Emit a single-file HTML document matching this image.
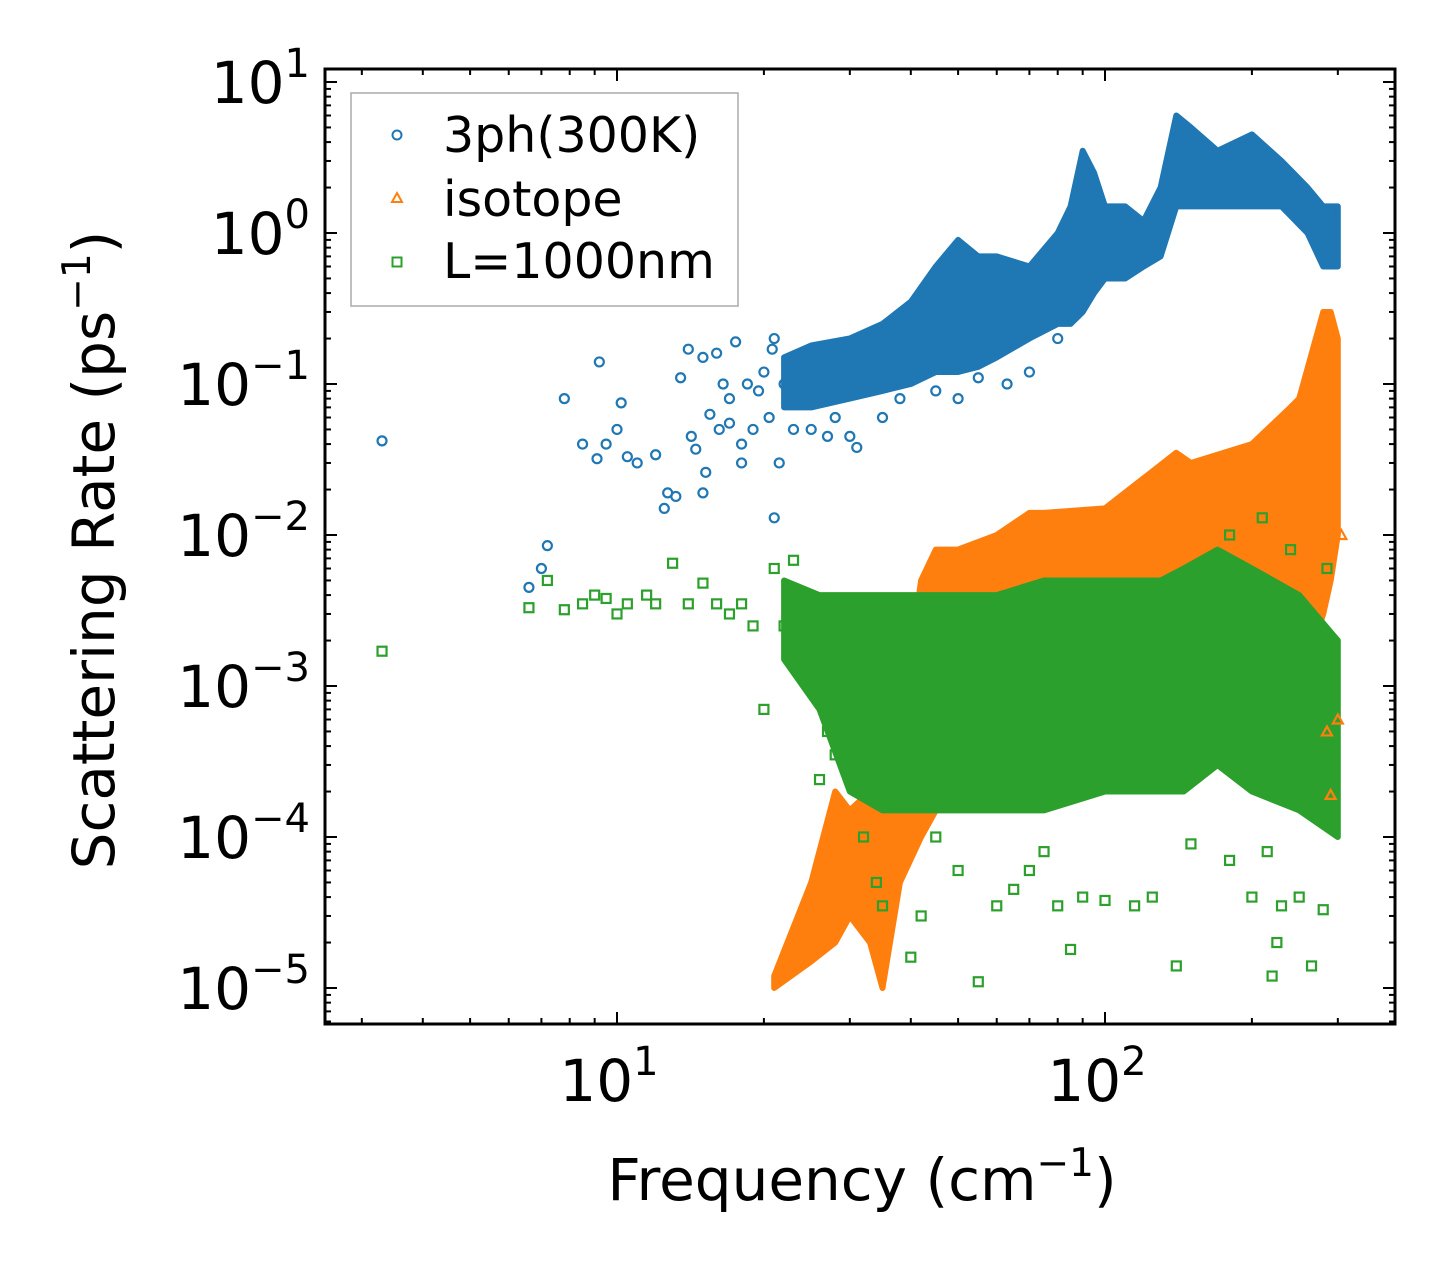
<!DOCTYPE html>
<html><head><meta charset="utf-8"><style>
html,body{margin:0;padding:0;background:#fff}
svg{display:block;font-family:"DejaVu Sans","Liberation Sans",sans-serif}
</style></head><body>
<svg id="chart" width="1455" height="1274" viewBox="0 0 1455 1274" xmlns="http://www.w3.org/2000/svg">
<rect x="0" y="0" width="1455" height="1274" fill="#fff"/>
<g id="bands"></g>
<g id="points"></g>
<g id="axes"></g>
<rect x="325" y="69" width="1070" height="955" fill="none" stroke="#000" stroke-width="3"/>
<g>
<rect x="351" y="93" width="387" height="213" fill="#fff" stroke="#aaa" stroke-width="1.5"/>
<circle cx="397" cy="135" r="4.5" fill="none" stroke="#1f77b4" stroke-width="2"/>
<text x="443" y="152" font-size="49">3ph(300K)</text>
<polygon points="397,193 402,202 392,202" fill="none" stroke="#ff7f0e" stroke-width="2"/>
<text x="443" y="216" font-size="49">isotope</text>
<rect x="392.5" y="257.5" width="9" height="9" fill="none" stroke="#2ca02c" stroke-width="2"/>
<text x="443" y="278" font-size="49">L=1000nm</text>
</g>
<text x="862" y="1200" font-size="58" text-anchor="middle">Frequency (cm<tspan dy="-24" font-size="39">−1</tspan><tspan dy="24">)</tspan></text>
<text transform="translate(114,550) rotate(-90)" font-size="58" text-anchor="middle">Scattering Rate (ps<tspan dy="-24" font-size="39">−1</tspan><tspan dy="24">)</tspan></text>
</svg>
<script>
// Dense-region envelopes
const blueBandX  = [22,25,30,35,40,45,50,55,60,70,80,85,90,95,100,110,120,130,140,150,170,200,230,260,280,300];
const blueBandLo = [0.07,0.07,0.08,0.09,0.1,0.12,0.12,0.13,0.15,0.2,0.25,0.25,0.3,0.4,0.5,0.5,0.6,0.7,1.5,1.5,1.5,1.5,1.5,1.0,0.6,0.6];
const blueBandHi = [0.15,0.18,0.2,0.25,0.35,0.6,0.9,0.7,0.7,0.6,1.0,1.5,3.5,2.5,1.5,1.5,1.2,2.0,6.0,5.0,3.5,4.5,3.0,2.0,1.5,1.5];
const orangeBandX  = [21,25,28,30,33,35,38,42,45,50,60,70,75,100,140,150,200,240,250,280,290,300];
const orangeBandLo = [1e-5,1.5e-5,2e-5,3e-5,2e-5,1e-5,5e-5,1e-4,1.5e-4,2e-4,2e-4,2e-4,2e-4,3e-4,5e-4,5e-4,1e-3,1e-3,1e-3,3e-3,5e-3,1e-2];
const orangeBandHi = [1.2e-5,5e-5,2e-4,1.5e-4,2e-4,3e-4,5e-4,5e-3,8e-3,8e-3,1e-2,1.4e-2,1.4e-2,1.5e-2,3.5e-2,3e-2,4e-2,7e-2,8e-2,0.3,0.3,0.2];
const greenBandX  = [22,26,30,35,45,60,75,100,130,145,170,200,250,300];
const greenBandLo = [1.5e-3,7e-4,2e-4,1.5e-4,1.5e-4,1.5e-4,1.5e-4,2e-4,2e-4,2e-4,3e-4,2e-4,1.5e-4,1e-4];
const greenBandHi = [5e-3,4e-3,4e-3,4e-3,4e-3,4e-3,5e-3,5e-3,5e-3,6e-3,8e-3,6e-3,4e-3,2e-3];
// Sparse points
const blueX = [3.3,6.6,7,7.2,7.8,8.5,9.2,9.1,9.5,10,10.2,10.5,11,12,12.5,12.7,13.2,13.5,14,14.2,14.5,15,15,15.2,15.5,16,16.2,16.5,17,17,17.5,18,18,18.5,19,19.5,20,20.5,20.8,21,21,21.5,22,23,25,27,28,30,31,35,38,45,50,55,63,70,80];
const blueY = [0.042,0.0045,0.006,0.0085,0.08,0.04,0.14,0.032,0.04,0.05,0.075,0.033,0.03,0.034,0.015,0.019,0.018,0.11,0.17,0.045,0.037,0.019,0.15,0.026,0.063,0.16,0.05,0.1,0.08,0.055,0.19,0.04,0.03,0.1,0.05,0.09,0.12,0.06,0.17,0.2,0.013,0.03,0.1,0.05,0.05,0.045,0.06,0.045,0.038,0.06,0.08,0.09,0.08,0.11,0.1,0.12,0.2];
const orangeX = [270,290,285,305,300];
const orangeY = [7e-3,1.9e-4,5e-4,1e-2,6e-4];
const greenX = [3.3,6.6,7.2,7.8,8.5,9,9.5,10,10.5,11.5,12,13,14,15,16,17,18,19,20,21,22,23,24,25,26,27,28,30,32,34,35,40,42,45,50,55,60,65,70,75,80,85,90,100,115,125,140,150,180,200,215,220,225,230,250,265,280,210,240,285,180];
const greenY = [1.7e-3,3.3e-3,5e-3,3.2e-3,3.5e-3,4e-3,3.8e-3,3e-3,3.5e-3,4e-3,3.5e-3,6.5e-3,3.5e-3,4.8e-3,3.5e-3,3e-3,3.5e-3,2.5e-3,7e-4,6e-3,2.5e-3,6.8e-3,4e-3,1.5e-3,2.4e-4,5e-4,3.5e-4,8e-4,1e-4,5e-5,3.5e-5,1.6e-5,3e-5,1e-4,6e-5,1.1e-5,3.5e-5,4.5e-5,6e-5,8e-5,3.5e-5,1.8e-5,4e-5,3.8e-5,3.5e-5,4e-5,1.4e-5,9e-5,7e-5,4e-5,8e-5,1.2e-5,2e-5,3.5e-5,4e-5,1.4e-5,3.3e-5,1.3e-2,8e-3,6e-3,1e-2];
const xTickLabels = ["1","2"];
const yTickExps = [1,0,-1,-2,-3,-4,-5];

const NS="http://www.w3.org/2000/svg";
function xs(v){return 617+488*(Math.log10(v)-1);}
function ys(v){return 233-151*Math.log10(v);}
function mk(tag,attrs,parent){const e=document.createElementNS(NS,tag);for(const k in attrs)e.setAttribute(k,attrs[k]);parent.appendChild(e);return e;}
const bands=document.getElementById('bands'),pts=document.getElementById('points'),axes=document.getElementById('axes');

function band(X,Lo,Hi,color,name){
  const top=X.map((x,i)=>xs(x).toFixed(1)+','+ys(Hi[i]).toFixed(1));
  const bot=X.map((x,i)=>xs(x).toFixed(1)+','+ys(Lo[i]).toFixed(1)).reverse();
  const p=mk('polygon',{points:top.concat(bot).join(' '),fill:color,stroke:color,'stroke-width':6,'stroke-linejoin':'round'},bands);
  
  
}
function scatter(X,Y,kind,color,name){
  X.forEach((x,i)=>{
    const cx=xs(x),cy=ys(Y[i]);let e;
    if(kind==='c') e=mk('circle',{cx:cx,cy:cy,r:4.5,fill:'none',stroke:color,'stroke-width':2.2},pts);
    else if(kind==='t') e=mk('polygon',{points:`${cx},${cy-5} ${cx+5},${cy+4} ${cx-5},${cy+4}`,fill:'none',stroke:color,'stroke-width':2.2},pts);
    else e=mk('rect',{x:cx-4.5,y:cy-4.5,width:9,height:9,fill:'none',stroke:color,'stroke-width':2.2},pts);
    
    
  });
}
band(blueBandX,blueBandLo,blueBandHi,'#1f77b4','band-3ph');
scatter(blueX,blueY,'c','#1f77b4','point-3ph');
band(orangeBandX,orangeBandLo,orangeBandHi,'#ff7f0e','band-isotope');
scatter(orangeX,orangeY,'t','#ff7f0e','point-isotope');
band(greenBandX,greenBandLo,greenBandHi,'#2ca02c','band-boundary');
scatter(greenX,greenY,'s','#2ca02c','point-boundary');

// Ticks
const L=325,R=1395,T=69,B=1024;
function tick(x1,y1,x2,y2,name){const t=mk('line',{x1:x1,y1:y1,x2:x2,y2:y2,stroke:'#000','stroke-width':2},axes);}
for(let d=0;d<=3;d++){for(let m=1;m<=9;m++){const v=m*Math.pow(10,d);const x=xs(v);if(x<L||x>R)continue;const len=m===1?12:6;
  tick(x,B,x,B-len,'x-tick');tick(x,T,x,T+len,'x-tick-top');}}
for(let d=-6;d<=1;d++){for(let m=1;m<=9;m++){const v=m*Math.pow(10,d);const y=ys(v);if(y<T||y>B)continue;const len=m===1?12:6;
  tick(L,y,L+len,y,'y-tick');tick(R,y,R-len,y,'y-tick-right');}}
xTickLabels.forEach((e,i)=>{const x=xs(Math.pow(10,+e));
  const t=mk('text',{x:x-8,y:1101,'font-size':58,'text-anchor':'middle'},axes);
  
  
  t.innerHTML='10<tspan dy="-26" font-size="40">'+e+'</tspan>';});
yTickExps.forEach(e=>{const y=ys(Math.pow(10,e));
  const t=mk('text',{x:310,y:y+21,'font-size':58,'text-anchor':'end'},axes);
  
  
  t.innerHTML='10<tspan dy="-26" font-size="40">'+(e<0?'−'+(-e):e)+'</tspan>';});
</script>
</body></html>
